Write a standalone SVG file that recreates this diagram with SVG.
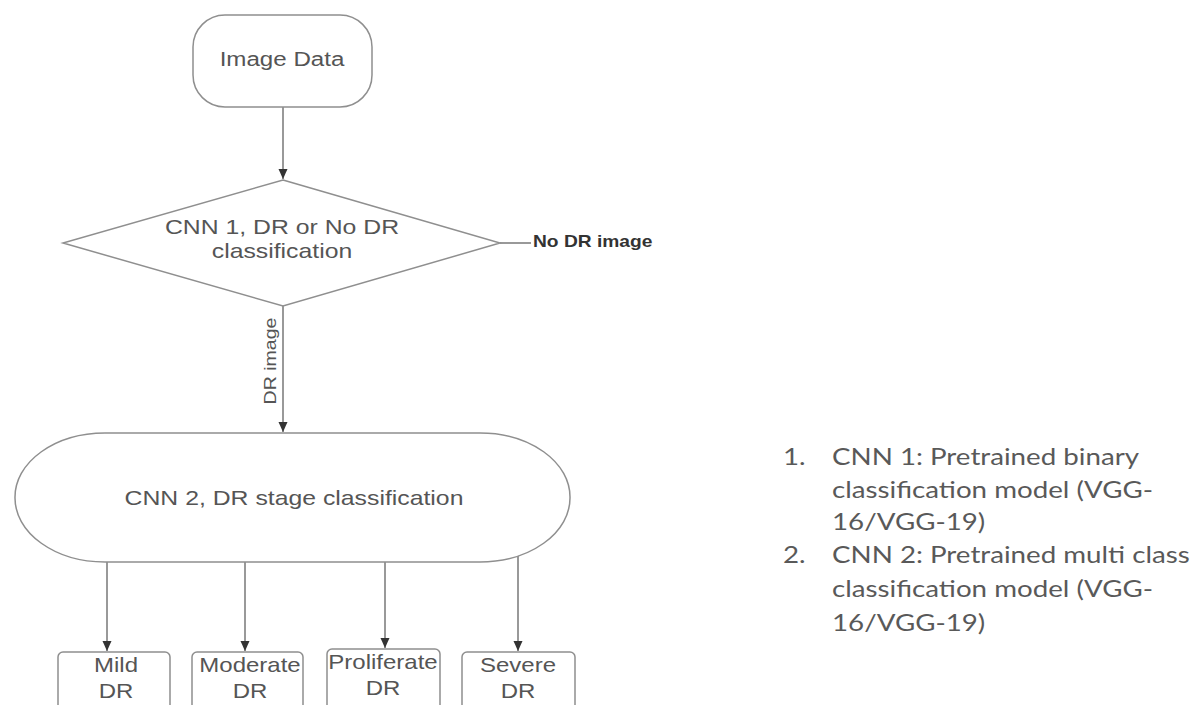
<svg xmlns="http://www.w3.org/2000/svg" width="1200" height="705" viewBox="0 0 1200 705">
<defs>
<marker id="ah" viewBox="0 0 10 10" refX="10" refY="5" markerWidth="10" markerHeight="10" markerUnits="userSpaceOnUse" orient="auto"><path d="M0,0.5 L10,5 L0,9.5 z" fill="#333"/></marker>
<style>
.shape{fill:#fff;stroke:#8f8f8f;stroke-width:1.5}
.t{font-family:"Liberation Sans",Arial,sans-serif;fill:#555;text-anchor:middle}
.b{font-size:20px}
.c{stroke:#777;stroke-width:1.5;fill:none}
.leg{font-family:Lato,"Liberation Sans",sans-serif;fill:#595959;font-size:24px}
</style>
</defs>
<rect width="1200" height="705" fill="#fff"/>
<g id="connectors">
<line class="c" x1="283" y1="107" x2="283" y2="179" marker-end="url(#ah)"/>
<line class="c" x1="500" y1="243" x2="531" y2="243"/>
<line class="c" x1="283" y1="306" x2="283" y2="432" marker-end="url(#ah)"/>
<line class="c" x1="107" y1="562" x2="107" y2="651" marker-end="url(#ah)"/>
<line class="c" x1="245" y1="562" x2="245" y2="651" marker-end="url(#ah)"/>
<line class="c" x1="385" y1="562" x2="385" y2="648" marker-end="url(#ah)"/>
<line class="c" x1="518" y1="553" x2="518" y2="651" marker-end="url(#ah)"/>
<text transform="translate(533,247) scale(1.2,1)" x="0" y="0" font-family="Liberation Sans,Arial,sans-serif" font-weight="bold" font-size="16" fill="#333">No DR image</text>
<text transform="translate(276,361) rotate(-90) scale(1.15,1)" x="0" y="0" class="t" font-size="17" fill="#444">DR image</text>
</g>
<g id="image-data">
<rect class="shape" x="193" y="15" width="179" height="92" rx="32"/>
<text class="t" transform="translate(282,66) scale(1.15,1)" x="0" y="0" font-size="21">Image Data</text>
</g>
<g id="cnn1">
<path class="shape" d="M283,180 L500,243 L283,306 L63,243 z"/>
<text class="t b" transform="translate(282,234) scale(1.24,1)" x="0" y="0">CNN 1, DR or No DR</text>
<text class="t b" transform="translate(282,258) scale(1.24,1)" x="0" y="0">classification</text>
</g>
<g id="cnn2">
<rect class="shape" x="15" y="433" width="555" height="129" rx="90" ry="64"/>
<text class="t b" transform="translate(294,505) scale(1.24,1)" x="0" y="0">CNN 2, DR stage classification</text>
</g>
<g id="mild">
<rect class="shape" x="58" y="652" width="112" height="62" rx="5"/>
<text class="t b" transform="translate(116,672) scale(1.2,1)" x="0" y="0">Mild</text>
<text class="t b" transform="translate(116,698) scale(1.2,1)" x="0" y="0">DR</text>
</g>
<g id="moderate">
<rect class="shape" x="192" y="652" width="111" height="62" rx="5"/>
<text class="t b" transform="translate(250,672) scale(1.2,1)" x="0" y="0">Moderate</text>
<text class="t b" transform="translate(250,698) scale(1.2,1)" x="0" y="0">DR</text>
</g>
<g id="proliferate">
<rect class="shape" x="327" y="649" width="113" height="65" rx="5"/>
<text class="t b" transform="translate(383,669) scale(1.2,1)" x="0" y="0">Proliferate</text>
<text class="t b" transform="translate(383,695) scale(1.2,1)" x="0" y="0">DR</text>
</g>
<g id="severe">
<rect class="shape" x="462" y="652" width="113" height="62" rx="5"/>
<text class="t b" transform="translate(518,672) scale(1.2,1)" x="0" y="0">Severe</text>
<text class="t b" transform="translate(518,698) scale(1.2,1)" x="0" y="0">DR</text>
</g>
<g id="legend">
<text class="leg" transform="translate(783,465) scale(1.155,1)" x="0" y="0">1.</text>
<text class="leg" transform="translate(783,563) scale(1.155,1)" x="0" y="0">2.</text>
<g transform="translate(832,0) scale(1.155,1)">
<text class="leg" x="0" y="465">CNN 1: Pretrained binary</text>
<text class="leg" x="0" y="498">classification model (VGG-</text>
<text class="leg" x="0" y="530">16/VGG-19)</text>
<text class="leg" x="0" y="563">CNN 2: Pretrained multi class</text>
<text class="leg" x="0" y="597">classification model (VGG-</text>
<text class="leg" x="0" y="631">16/VGG-19)</text>
</g>
</g>
</svg>
